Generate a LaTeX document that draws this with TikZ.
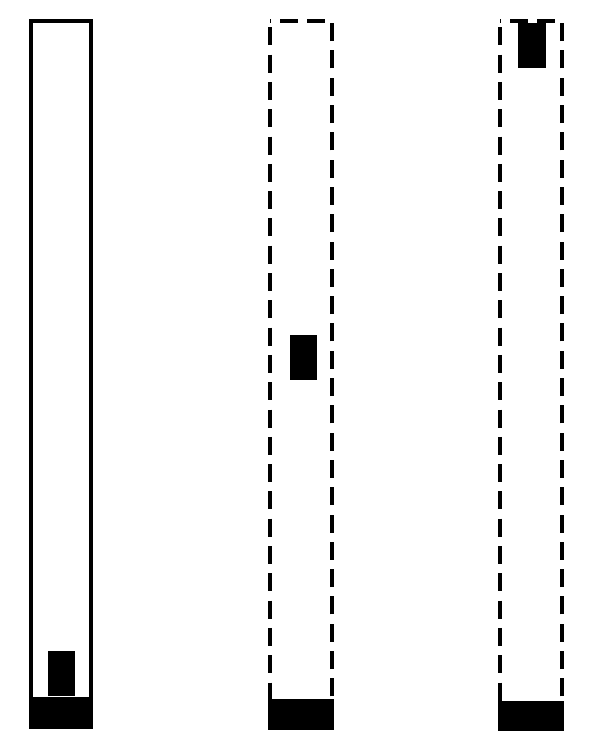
\documentclass[tikz,border=0pt]{standalone}
\usepackage{tikz}

\begin{document}
\begin{tikzpicture}[x=1pt,y=-1pt,
	tube/.style={line width=4.3pt},
	dashtube/.style={tube,dash pattern=on 18pt off 9.3pt,dash phase=21pt}]
	\useasboundingbox (0,0) rectangle (599,749);

	% 三根竖管的外框
	\draw[tube] (31,21) rectangle (91,713);          % 左：实线
	\draw[dashtube] (270,21) rectangle (332,713);    % 中：虚线
	\draw[dashtube] (500,21) rectangle (562,713);    % 右：虚线

	% 底座，盖住外框的下边
	\fill (29,697) rectangle (93,729);
	\fill (268,699) rectangle (334,730);
	\fill (498,701) rectangle (564,731);

	% 小方块，从左到右依次升高
	\fill (48,651) rectangle (75,696);     % 底部
	\fill (290,335) rectangle (317,380);   % 中间
	\fill (518,23) rectangle (546,68);     % 顶部
\end{tikzpicture}
\end{document}
